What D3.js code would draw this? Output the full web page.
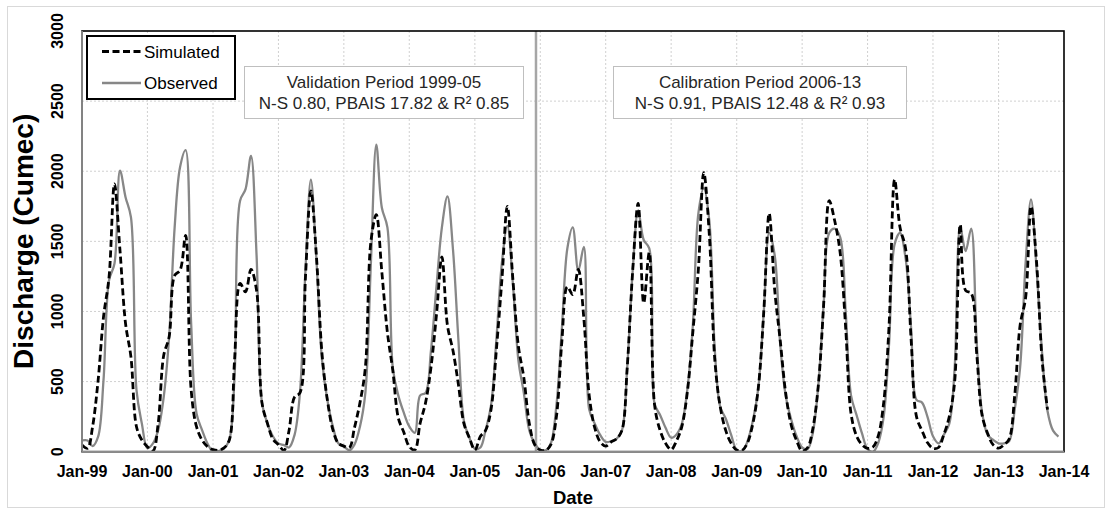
<!DOCTYPE html>
<html><head><meta charset="utf-8">
<script src="https://cdn.jsdelivr.net/npm/d3@7"></script>
<style>
html,body{margin:0;padding:0;background:#fff;}
text{font-family:"Liberation Sans",Arial,sans-serif;}
</style></head>
<body><svg id="chart" width="1111" height="515"></svg>
<script>
// ---------- DATA (monthly, Jan-1999 .. Dec-2013) ----------
const years = [1999,2000,2001,2002,2003,2004,2005,2006,2007,2008,2009,2010,2011,2012,2013];
const xTickLabels = ["Jan-99","Jan-00","Jan-01","Jan-02","Jan-03","Jan-04","Jan-05","Jan-06","Jan-07","Jan-08","Jan-09","Jan-10","Jan-11","Jan-12","Jan-13","Jan-14"];
const yTicks = [0,500,1000,1500,2000,2500,3000];

const observed = [
  80, 80, 40, 107, 510, 1222, 1340, 2005, 1815, 1673, 440, 200,
  24, 59, 154, 391, 818, 1601, 2028, 2150, 913, 273, 154, 59,
  0, 5, 20, 80, 530, 1790, 1870, 2110, 1400, 350, 200, 110,
  59, 47, 30, 120, 420, 1300, 1940, 1369, 655, 369, 178, 60,
  36, 10, 50, 180, 420, 1350, 2190, 1740, 1600, 600, 400, 280,
  180, 135, 400, 420, 720, 1180, 1600, 1820, 1440, 800, 220, 100,
  20, 30, 150, 330, 800, 1350, 1610, 1200, 650, 420, 150, 60,
  12, 10, 60, 330, 870, 1450, 1600, 1290, 1460, 300, 200, 120,
  70, 75, 90, 150, 600, 1300, 1720, 1510, 1450, 340, 260, 170,
  100, 125, 200, 450, 900, 1700, 1880, 1650, 720, 320, 235, 120,
  12, 5, 70, 220, 450, 1000, 1560, 1400, 760, 400, 230, 110,
  30, 20, 130, 470, 1050, 1560, 1590, 1530, 1000, 400, 260, 130,
  20, 0, 60, 250, 770, 1480, 1560, 1380, 880, 370, 350, 250,
  110, 60, 120, 200, 600, 1600, 1430, 1590, 780, 280, 120, 85,
  60, 60, 75, 300, 600, 1350, 1800, 1300, 700, 290, 150, 108
];
const simulated = [
  47, 24, 178, 510, 961, 1246, 1910, 1435, 913, 676, 178, 83,
  36, 5, 202, 688, 818, 1257, 1293, 1542, 440, 178, 83, 36,
  15, 10, 25, 80, 650, 1200, 1140, 1300, 1150, 350, 200, 90,
  50, 10, 150, 390, 420, 1250, 1860, 1393, 702, 369, 155, 60,
  40, 30, 170, 350, 600, 1500, 1690, 1280, 850, 580, 240, 140,
  36, 12, 200, 350, 600, 980, 1390, 900, 720, 480, 200, 100,
  12, 110, 150, 300, 726, 1230, 1750, 1230, 750, 530, 200, 50,
  12, 10, 50, 250, 780, 1176, 1120, 1300, 950, 400, 170, 70,
  40, 70, 90, 150, 600, 1300, 1770, 1060, 1420, 330, 150, 60,
  15, 80, 180, 430, 850, 1300, 1990, 1550, 650, 320, 150, 60,
  12, 10, 60, 200, 450, 1000, 1700, 1150, 790, 420, 190, 80,
  5, 30, 160, 470, 1050, 1790, 1650, 1420, 880, 270, 110, 50,
  24, 35, 110, 350, 900, 1940, 1600, 1450, 800, 250, 150, 65,
  24, 30, 120, 250, 500, 1620, 1150, 1130, 700, 260, 130, 50,
  25, 50, 90, 400, 900, 1100, 1750, 1350, 650, 300, null, null
];
const seriesNames = ["Simulated","Observed"];
const periodTitles = ["Validation Period 1999-05","Calibration Period 2006-13"];
const periodStats = ["N-S 0.80, PBAIS 17.82 & R\u00B2 0.85","N-S 0.91, PBAIS 12.48 & R\u00B2 0.93"];
const dividerDate = new Date(2005, 11, 8);

// ---------- LAYOUT ----------
const svg = d3.select("#chart");
const L = 82, R = 1064, T = 31, B = 451.7;
const months = d3.range(observed.length).map(i => new Date(years[0], i, 1));
const x = d3.scaleTime().domain([new Date(1999,0,1), new Date(2014,0,1)]).range([L, R]);
const y = d3.scaleLinear().domain([0, 3000]).range([B, T]);

// outer chart border
svg.append("rect").attr("x",7.5).attr("y",6.5).attr("width",1097).attr("height",501)
  .attr("fill","#fff").attr("stroke","#d9d9d9").attr("stroke-width",1);

// gridlines
const grid = svg.append("g").attr("stroke","#d0d0d0").attr("stroke-width",1).attr("stroke-dasharray","2,2");
grid.selectAll("line.h").data(yTicks.filter(v => v > 0 && v < 3000)).join("line")
  .attr("x1",L).attr("x2",R).attr("y1",d=>y(d)).attr("y2",d=>y(d));
const janDates = xTickLabels.map((s,i)=> new Date(1999+i,0,1));
grid.selectAll("line.v").data(janDates.slice(1,-1)).join("line")
  .attr("y1",T).attr("y2",B).attr("x1",d=>x(d)).attr("x2",d=>x(d));

// clip
svg.append("clipPath").attr("id","clip").append("rect")
  .attr("x",L).attr("y",T).attr("width",R-L).attr("height",B-T);

// divider
svg.append("line").attr("x1",x(dividerDate)).attr("x2",x(dividerDate)).attr("y1",T).attr("y2",B)
  .attr("stroke","#a6a6a6").attr("stroke-width",2.5);

// lines
const line = d3.line().defined(d=>d[1]!=null).x(d=>x(d[0])).y(d=>y(d[1])).curve(d3.curveCatmullRom.alpha(0.5));
const gLines = svg.append("g").attr("clip-path","url(#clip)");
gLines.append("path").datum(months.map((m,i)=>[m, observed[i]]))
  .attr("d",line).attr("fill","none").attr("stroke","#878787").attr("stroke-width",2.3).attr("stroke-linejoin","round");
gLines.append("path").datum(months.map((m,i)=>[m, simulated[i]]))
  .attr("d",line).attr("fill","none").attr("stroke","#000").attr("stroke-width",2.8).attr("stroke-dasharray","7,3.5");

// frame
svg.append("rect").attr("x",L).attr("y",T).attr("width",R-L).attr("height",B-T)
  .attr("fill","none").attr("stroke","#000").attr("stroke-width",1.6);
svg.append("line").attr("x1",L).attr("x2",L).attr("y1",T).attr("y2",B).attr("stroke","#8c8c8c").attr("stroke-width",1.8);
svg.append("line").attr("x1",L).attr("x2",R).attr("y1",B).attr("y2",B).attr("stroke","#8c8c8c").attr("stroke-width",2);

// y tick labels
svg.append("g").selectAll("text").data(yTicks).join("text")
  .attr("transform",d=>`translate(63.3,${y(d)}) rotate(-90)`)
  .attr("text-anchor","middle").attr("font-size",16).attr("font-weight","bold").attr("fill","#000")
  .text(d=>d);

// x tick labels
svg.append("g").selectAll("text").data(xTickLabels).join("text")
  .attr("x",(d,i)=>x(janDates[i])).attr("y",477)
  .attr("text-anchor","middle").attr("font-size",16).attr("font-weight","bold").attr("fill","#000")
  .text(d=>d);

// axis titles
svg.append("text").attr("x",(L+R)/2).attr("y",504).attr("text-anchor","middle")
  .attr("font-size",18.5).attr("font-weight","bold").text("Date");
svg.append("text").attr("transform",`translate(32.5,${(T+B)/2}) rotate(-90)`).attr("text-anchor","middle")
  .attr("font-size",28).attr("font-weight","bold").text("Discharge (Cumec)");

// legend
const lg = svg.append("g");
lg.append("rect").attr("x",87).attr("y",36).attr("width",148).attr("height",63)
  .attr("fill","#fff").attr("stroke","#000").attr("stroke-width",2);
lg.append("line").attr("x1",102).attr("x2",141).attr("y1",51.5).attr("y2",51.5)
  .attr("stroke","#000").attr("stroke-width",2.8).attr("stroke-dasharray","7,3.5");
lg.append("line").attr("x1",102).attr("x2",141).attr("y1",83).attr("y2",83)
  .attr("stroke","#878787").attr("stroke-width",2.3);
lg.append("text").attr("x",144).attr("y",57.5).attr("font-size",17).text(seriesNames[0]);
lg.append("text").attr("x",144).attr("y",89).attr("font-size",17).text(seriesNames[1]);

// period boxes
const boxes = [{x:244.5,w:279},{x:613.5,w:293}];
boxes.forEach((b,i)=>{
  svg.append("rect").attr("x",b.x).attr("y",66.5).attr("width",b.w).attr("height",52)
    .attr("fill","#fff").attr("stroke","#bfbfbf").attr("stroke-width",1);
  svg.append("text").attr("x",b.x+b.w/2).attr("y",87.7).attr("text-anchor","middle")
    .attr("font-size",17).attr("fill","#262626").text(periodTitles[i]);
  svg.append("text").attr("x",b.x+b.w/2).attr("y",109.3).attr("text-anchor","middle")
    .attr("font-size",17).attr("fill","#262626").text(periodStats[i]);
});
</script></body></html>
